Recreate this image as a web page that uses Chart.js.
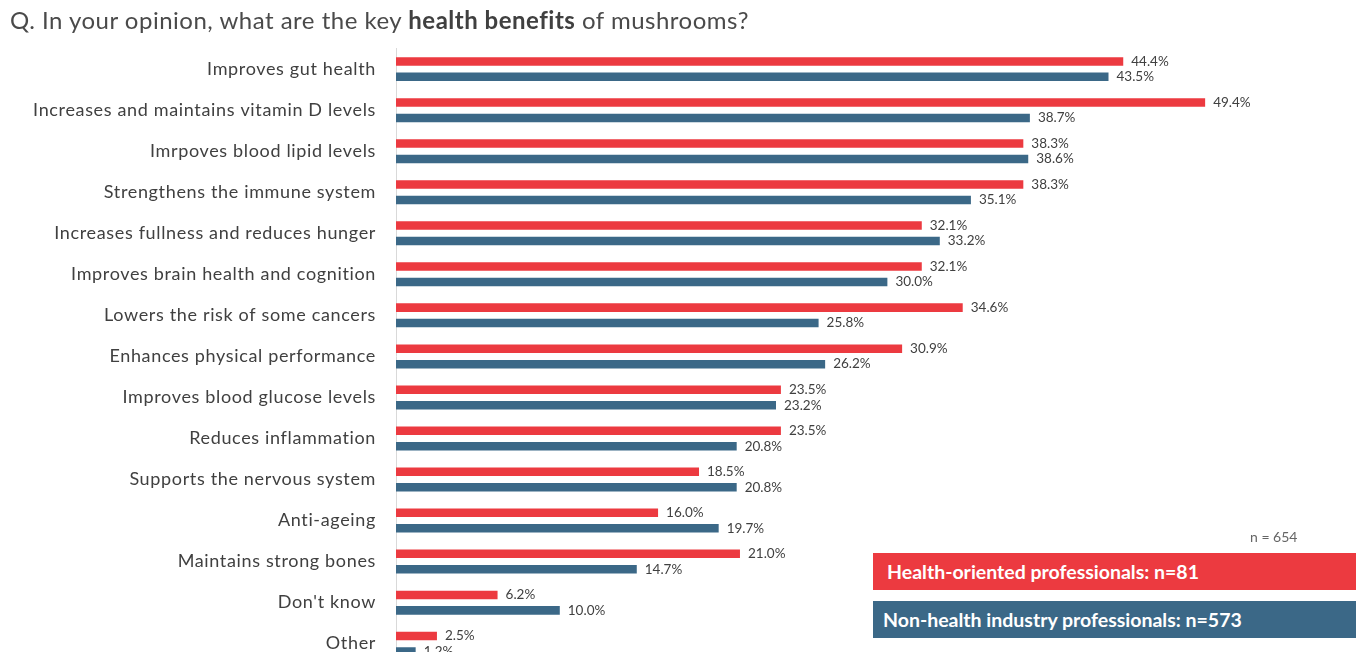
<!DOCTYPE html>
<html>
<head>
<meta charset="utf-8">
<script src="https://cdn.jsdelivr.net/npm/chart.js@4/dist/chart.umd.min.js"></script>
<style>
  html, body { margin: 0; padding: 0; background: #fff; overflow: hidden; width: 1356px; height: 652px; }
  #wrap { position: relative; width: 1356px; height: 652px; overflow: hidden; }
  #title { position: absolute; left: 10px; top: 5px; font-family: Lato, "Open Sans", sans-serif; font-size: 24px; letter-spacing: 0.5px; color: #4a4a4a; white-space: nowrap; }
  #title b { color: #404040; }
  canvas { position: absolute; left: 0; top: 0; }
  .note { position: absolute; left: 1250px; top: 528px; font-family: Lato, sans-serif; font-size: 14px; color: #666; }
  .key { position: absolute; left: 873px; width: 483px; height: 37px; color: #fff; font-family: Lato, "Open Sans", sans-serif; font-weight: bold; font-size: 19.5px; line-height: 37px; box-sizing: border-box; padding-left: 14px; }
</style>
</head>
<body>
<div id="wrap">
  <canvas id="chart" width="1356" height="695"></canvas>
  <div id="title">Q. In your opinion, what are the key <b>health benefits</b> of mushrooms?</div>
  <div class="note">n = 654</div>
  <div class="key" id="key1" style="top:553px;"></div>
  <div class="key" id="key2" style="top:601px; padding-left: 10px;"></div>
</div>
<script>
// Answer options, top to bottom
const categories = [
  "Improves gut health",
  "Increases and maintains vitamin D levels",
  "Imrpoves blood lipid levels",
  "Strengthens the immune system",
  "Increases fullness and reduces hunger",
  "Improves brain health and cognition",
  "Lowers the risk of some cancers",
  "Enhances physical performance",
  "Improves blood glucose levels",
  "Reduces inflammation",
  "Supports the nervous system",
  "Anti-ageing",
  "Maintains strong bones",
  "Don't know",
  "Other"
];

// Share of respondents (%) per group
const healthOriented = [44.4, 49.4, 38.3, 38.3, 32.1, 32.1, 34.6, 30.9, 23.5, 23.5, 18.5, 16.0, 21.0, 6.2, 2.5];
const nonHealth      = [43.5, 38.7, 38.6, 35.1, 33.2, 30.0, 25.8, 26.2, 23.2, 20.8, 20.8, 19.7, 14.7, 10.0, 1.2];

const seriesNames = ["Health-oriented professionals: n=81", "Non-health industry professionals: n=573"];
const RED = "#ec3a40";
const BLUE = "#3b6887";

document.getElementById("key1").textContent = seriesNames[0];
document.getElementById("key1").style.background = RED;
document.getElementById("key2").textContent = seriesNames[1];
document.getElementById("key2").style.background = BLUE;

// Slightly tracked-out category labels
const labelSpacing = {
  id: "labelSpacing",
  beforeDraw(chart) { chart.ctx.letterSpacing = "0.65px"; },
  beforeDatasetsDraw(chart) { chart.ctx.letterSpacing = "0px"; }
};

// Writes each bar's value just past its end
const valueLabels = {
  id: "valueLabels",
  afterDatasetsDraw(chart) {
    const ctx = chart.ctx;
    ctx.save();
    ctx.letterSpacing = "0px";
    ctx.font = "13.5px Lato, 'Open Sans', sans-serif";
    ctx.fillStyle = "#404040";
    ctx.textAlign = "left";
    ctx.textBaseline = "middle";
    chart.data.datasets.forEach((ds, di) => {
      chart.getDatasetMeta(di).data.forEach((bar, i) => {
        ctx.fillText(ds.data[i].toFixed(1) + "%", bar.x + 8, bar.y);
      });
    });
    ctx.restore();
  }
};

new Chart(document.getElementById("chart"), {
  type: "bar",
  data: {
    labels: categories,
    datasets: [
      { label: seriesNames[0], data: healthOriented, backgroundColor: RED, categoryPercentage: 0.754, barPercentage: 0.55 },
      { label: seriesNames[1], data: nonHealth, backgroundColor: BLUE, categoryPercentage: 0.754, barPercentage: 0.55 }
    ]
  },
  options: {
    indexAxis: "y",
    responsive: false,
    animation: false,
    devicePixelRatio: 1,
    layout: { padding: { top: 48.6, bottom: 0, left: 0, right: 10 } },
    plugins: { legend: { display: false }, tooltip: { enabled: false } },
    scales: {
      x: { display: false, min: 0, max: 58 },
      y: {
        grid: { display: false, drawTicks: false },
        border: { display: true, color: "#d9d9d9", width: 1 },
        ticks: {
          padding: 20,
          color: "#404040",
          font: { family: "Lato, 'Open Sans', sans-serif", size: 18 }
        },
        afterFit(scale) { scale.width = 396; }
      }
    }
  },
  plugins: [labelSpacing, valueLabels]
});
</script>
</body>
</html>
